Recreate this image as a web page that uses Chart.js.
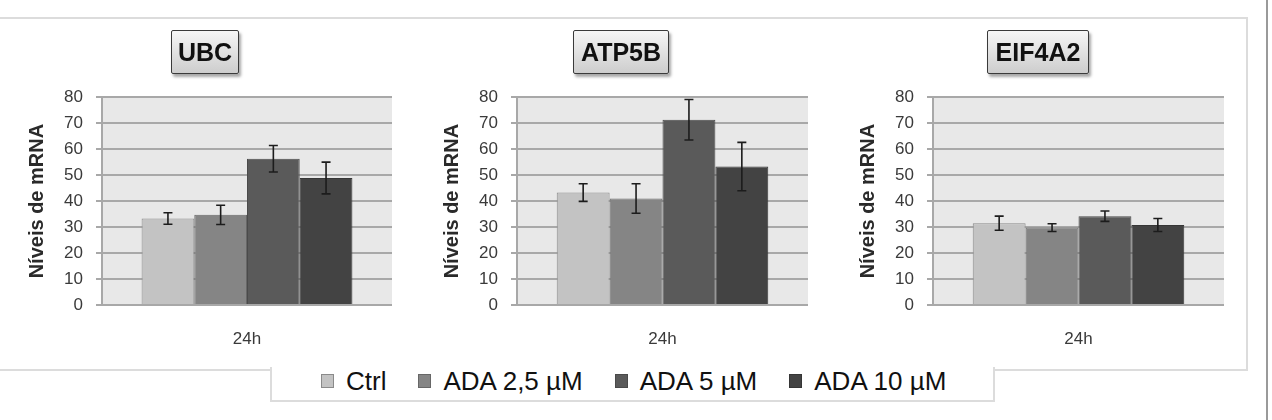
<!DOCTYPE html>
<html>
<head>
<meta charset="utf-8">
<script src="https://cdn.jsdelivr.net/npm/chart.js@4.4.1/dist/chart.umd.min.js"></script>
<style>
    body { margin: 0; background: #fff; }
    #page { position: relative; width: 1272px; height: 420px; overflow: hidden; background: #fff; font-family: "Liberation Sans", Arial, sans-serif; }
    #frame { position: absolute; left: -4px; top: 17px; width: 1248px; height: 350px; border: 2px solid #dcdcdc; }
    #legendBox { position: absolute; left: 270px; top: 367px; width: 721px; height: 33px; border: 2px solid #dcdcdc; border-top: none; background: #fff; }
    #rightLine { position: absolute; left: 1266px; top: 0; width: 2px; height: 420px; background: #9a9a9a; }
    .panel { position: absolute; top: 74px; }
    .titleBox { position: absolute; top: 30px; height: 42px; line-height: 42px; text-align: center; font-weight: bold; font-size: 25px; color: #111;
        border: 1.5px solid #3a3a3a; border-radius: 2px; background: linear-gradient(#f6f6f6, #cdcdcd); box-shadow: 2px 3px 3px rgba(0,0,0,0.35); }
    #legend { position: absolute; left: 321px; top: 366px; height: 30px; display: flex; align-items: center; font-size: 26px; color: #111; }
    .item { display: flex; align-items: center; margin-right: 32px; }
    .swatch { width: 13px; height: 14px; margin-right: 12px; }
</style>
</head>
<body>
<div id="page">
    <div id="frame"></div>
    <div id="legendBox"></div>
    <div id="rightLine"></div>
    <div id="legend"></div>
</div>
<script>
const genes = ["UBC", "ATP5B", "EIF4A2"];
const treatments = ["Ctrl", "ADA 2,5 µM", "ADA 5 µM", "ADA 10 µM"];
const timepoints = ["24h"];

const ubcMeans = [33.3, 34.7, 56.3, 48.9];
const ubcErrors = [2.2, 3.7, 5.1, 6.1];
const atp5bMeans = [43.3, 41.0, 71.3, 53.3];
const atp5bErrors = [3.4, 5.7, 7.8, 9.3];
const eif4a2Means = [31.5, 29.8, 34.2, 30.8];
const eif4a2Errors = [2.7, 1.5, 2.0, 2.5];

const yMin = 0;
const yMax = 80;
const yStep = 10;
const yTitle = "Níveis de mRNA";

const fills = ["#c3c3c3", "#858585", "#5a5a5a", "#434343"];
const borders = ["#8a8a8a", "#676767", "#4a4a4a", "#363636"];

// panel placement (canvas left, canvas width, title box left, title box width)
const panelLeft = [0, 415, 831];
const panelWidth = [392, 393, 393];
const titleLeft = [171, 573, 987];
const titleWidth = [66, 94, 100];

const allMeans = [ubcMeans, atp5bMeans, eif4a2Means];
const allErrors = [ubcErrors, atp5bErrors, eif4a2Errors];

const plotBg = {
    id: "plotBg",
    beforeDraw(chart) {
        const a = chart.chartArea;
        const ctx = chart.ctx;
        ctx.save();
        ctx.fillStyle = "#e8e8e8";
        ctx.fillRect(a.left, a.top, a.right - a.left, a.bottom - a.top);
        ctx.restore();
    }
};

const errorBars = {
    id: "errorBars",
    afterDatasetsDraw(chart) {
        const ctx = chart.ctx;
        const y = chart.scales.y;
        ctx.save();
        ctx.strokeStyle = "#1c1c1c";
        ctx.lineWidth = 1.6;
        chart.data.datasets.forEach((ds, i) => {
            const meta = chart.getDatasetMeta(i);
            meta.data.forEach((bar, j) => {
                const v = ds.data[j];
                const e = ds.errors[j];
                const top = y.getPixelForValue(v + e);
                const bot = y.getPixelForValue(v - e);
                ctx.beginPath();
                ctx.moveTo(bar.x, top);
                ctx.lineTo(bar.x, bot);
                ctx.moveTo(bar.x - 4.5, top);
                ctx.lineTo(bar.x + 4.5, top);
                ctx.moveTo(bar.x - 4.5, bot);
                ctx.lineTo(bar.x + 4.5, bot);
                ctx.stroke();
            });
        });
        ctx.restore();
    }
};

const page = document.getElementById("page");

genes.forEach((gene, p) => {
    const wrap = document.createElement("div");
    wrap.className = "panel";
    wrap.style.left = panelLeft[p] + "px";
    const canvas = document.createElement("canvas");
    canvas.width = panelWidth[p];
    canvas.height = 280;
    wrap.appendChild(canvas);
    page.appendChild(wrap);

    const box = document.createElement("div");
    box.className = "titleBox";
    box.style.left = titleLeft[p] + "px";
    box.style.width = titleWidth[p] + "px";
    box.textContent = gene;
    page.appendChild(box);

    new Chart(canvas.getContext("2d"), {
        type: "bar",
        data: {
            labels: timepoints,
            datasets: treatments.map((t, i) => ({
                label: t,
                data: [allMeans[p][i]],
                errors: [allErrors[p][i]],
                backgroundColor: fills[i],
                borderColor: borders[i],
                borderWidth: 1,
                categoryPercentage: 0.727,
                barPercentage: 1
            }))
        },
        options: {
            responsive: false,
            animation: false,
            layout: { padding: { top: 0, right: 0, bottom: 0, left: 0 } },
            plugins: {
                legend: { display: false },
                tooltip: { enabled: false }
            },
            scales: {
                x: {
                    grid: { display: false, drawTicks: false },
                    border: { display: false },
                    ticks: { padding: 24, color: "#3a3a3a", font: { family: "Liberation Sans", size: 17 } },
                    afterFit(scale) { scale.height = 49; }
                },
                y: {
                    min: yMin,
                    max: yMax,
                    ticks: { stepSize: yStep, padding: 13, color: "#3a3a3a", font: { family: "Liberation Sans", size: 17 } },
                    grid: { color: "#a8a8a8", lineWidth: 2, tickLength: 6 },
                    border: { color: "#a8a8a8", width: 2 },
                    title: {
                        display: true,
                        text: yTitle,
                        color: "#2a2a2a",
                        font: { family: "Liberation Sans", size: 20, weight: "bold" },
                        padding: { top: 25, bottom: 0 }
                    },
                    afterFit(scale) { scale.width = 102; }
                }
            }
        },
        plugins: [plotBg, errorBars]
    });
});

// legend
const legend = document.getElementById("legend");
treatments.forEach((t, i) => {
    const item = document.createElement("div");
    item.className = "item";
    const sw = document.createElement("span");
    sw.className = "swatch";
    sw.style.background = fills[i];
    sw.style.border = "1px solid " + borders[i];
    sw.style.boxSizing = "border-box";
    const txt = document.createElement("span");
    txt.textContent = t;
    item.appendChild(sw);
    item.appendChild(txt);
    legend.appendChild(item);
});
</script>
</body>
</html>
